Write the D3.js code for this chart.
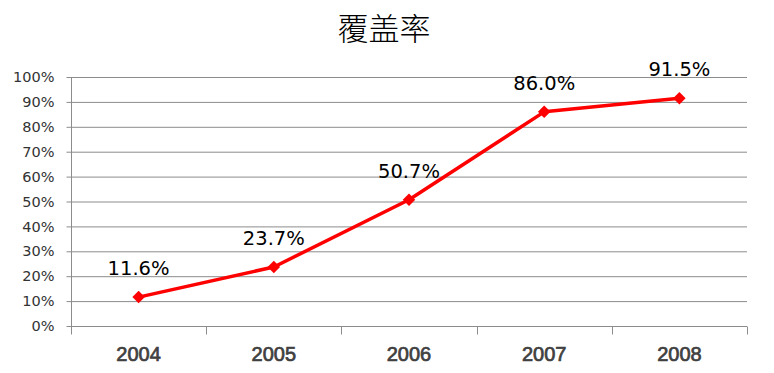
<!DOCTYPE html>
<html><head><meta charset="utf-8">
<script src="https://cdn.jsdelivr.net/npm/d3@7"></script>
<style>body{margin:0;background:#fff}svg{display:block}</style>
</head><body>
<script>
const title = "覆盖率";
const categories = ["2004","2005","2006","2007","2008"];
const values = [11.6, 23.7, 50.7, 86.0, 91.5];
const yTicks = [0,10,20,30,40,50,60,70,80,90,100];

const W = 774, H = 373;
const m = {left:71, right:27, top:77, bottom:47};
const svg = d3.select("body").append("svg").attr("width",W).attr("height",H);

const x = d3.scaleBand().domain(categories).range([m.left, W-m.right]);
const y = d3.scaleLinear().domain([0,100]).range([H-m.bottom, m.top]);

svg.append("text").attr("x",384).attr("y",40).attr("text-anchor","middle")
  .attr("font-family","'Noto Sans CJK SC'").attr("font-size",31).attr("font-weight",300).attr("fill","#000").text(title);

// gridlines
svg.append("g").selectAll("line").data(yTicks.slice(1)).join("line")
  .attr("x1",m.left).attr("x2",W-m.right).attr("y1",d=>y(d)+0.5).attr("y2",d=>y(d)+0.5)
  .attr("stroke","#8c8c8c").attr("stroke-width",1);

// y axis
const ya = svg.append("g").attr("transform",`translate(${m.left+0.5},0)`)
  .call(d3.axisLeft(y).tickValues(yTicks).tickFormat(d=>d+"%").tickSize(5).tickPadding(12));
ya.select(".domain").attr("stroke","#8c8c8c").attr("d",`M0,${y(0)}V${y(100)}`);
ya.selectAll(".tick line").attr("stroke","#8c8c8c");
ya.selectAll(".tick").attr("transform",d=>`translate(0,${y(d)+0.5})`);
ya.selectAll("text").attr("font-family","'DejaVu Sans'").attr("font-size",14.5).attr("fill","#333");

// x axis
const xg = svg.append("g").attr("transform",`translate(0,${y(0)+0.5})`);
xg.append("line").attr("x1",m.left).attr("x2",W-m.right).attr("stroke","#8c8c8c");
const bounds = categories.map(c=>x(c)).concat([x(categories[categories.length-1])+x.bandwidth()]);
xg.selectAll(".xt").data(bounds).join("line").attr("class","xt")
  .attr("x1",d=>Math.round(d)+0.5).attr("x2",d=>Math.round(d)+0.5).attr("y1",0).attr("y2",8)
  .attr("stroke","#8c8c8c");
xg.selectAll(".xl").data(categories).join("text").attr("class","xl")
  .attr("x",d=>x(d)+x.bandwidth()/2).attr("y",34).attr("text-anchor","middle")
  .attr("font-family","'Liberation Sans',Arial").attr("font-size",20)
  .attr("fill","#404040").attr("stroke","#404040").attr("stroke-width",0.7)
  .text(d=>d);

// line
const line = d3.line().x((d,i)=>x(categories[i])+x.bandwidth()/2).y(d=>y(d));
svg.append("path").datum(values).attr("d",line).attr("fill","none")
  .attr("stroke","#ff0000").attr("stroke-width",3.5).attr("stroke-linejoin","round");

svg.append("g").selectAll("path").data(values).join("path")
  .attr("d",d3.symbol().type(d3.symbolSquare).size(78))
  .attr("transform",(d,i)=>`translate(${x(categories[i])+x.bandwidth()/2},${y(d)}) rotate(45)`)
  .attr("fill","#ff0000");

svg.append("g").selectAll("text").data(values).join("text")
  .attr("x",(d,i)=>x(categories[i])+x.bandwidth()/2).attr("y",d=>y(d)-22)
  .attr("text-anchor","middle").attr("font-family","'DejaVu Sans'").attr("font-size",19.5)
  .attr("fill","#000").text(d=>d.toFixed(1)+"%");
</script>
</body></html>
